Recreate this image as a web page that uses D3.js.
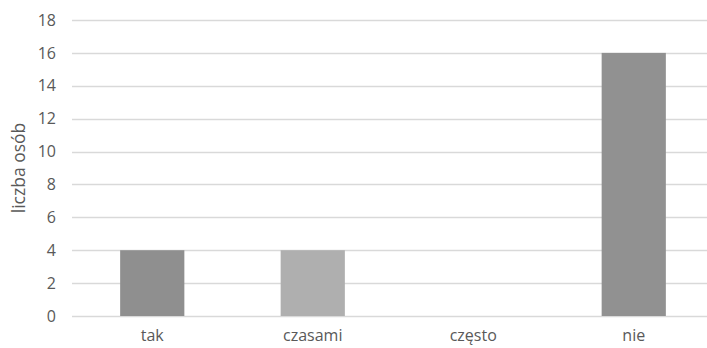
<!DOCTYPE html>
<html>
<head>
<meta charset="utf-8">
<script src="https://cdn.jsdelivr.net/npm/d3@7"></script>
<style>
  body { margin: 0; background: #fff; }
  svg { display: block; font-family: "Open Sans", "Liberation Sans", sans-serif; }
</style>
</head>
<body>
<svg id="chart"></svg>
<script>
const categories = ["tak", "czasami", "często", "nie"];
const values = [4, 4, 0, 16];
const barColors = ["#8f8f8f", "#afafaf", "#a0a0a0", "#919191"];
const yTicks = [0, 2, 4, 6, 8, 10, 12, 14, 16, 18];
const yLabel = "liczba osób";

const width = 707, height = 348;
const margin = { top: 20, right: -7, bottom: 32, left: 72 };

const svg = d3.select("#chart").attr("width", width).attr("height", height);

const x = d3.scaleBand()
  .domain(categories)
  .range([margin.left, width - margin.right])
  .paddingInner(0.6)
  .paddingOuter(0.3);

const y = d3.scaleLinear()
  .domain([0, 18])
  .range([height - margin.bottom, margin.top]);

// gridlines
svg.append("g")
  .selectAll("line")
  .data(yTicks)
  .join("line")
  .attr("x1", margin.left)
  .attr("x2", width)
  .attr("y1", d => Math.round(y(d)) + 0.5)
  .attr("y2", d => Math.round(y(d)) + 0.5)
  .attr("stroke", "#d9d9d9")
  .attr("stroke-width", 1.5);

// bars
svg.append("g")
  .selectAll("rect")
  .data(values)
  .join("rect")
  .attr("x", (d, i) => x(categories[i]))
  .attr("width", x.bandwidth())
  .attr("y", d => y(d))
  .attr("height", d => y(0) - y(d))
  .attr("fill", (d, i) => barColors[i]);

// y axis labels
const yAxis = d3.axisLeft(y).tickValues(yTicks).tickSize(0).tickPadding(16);
svg.append("g")
  .attr("transform", `translate(${margin.left},0)`)
  .call(yAxis)
  .call(g => g.select(".domain").remove())
  .call(g => g.selectAll("text")
    .attr("fill", "#595959")
    .attr("font-size", 16)
    .attr("font-family", "'Open Sans', sans-serif"));

// x axis labels
const xAxis = d3.axisBottom(x).tickSize(0).tickPadding(14);
svg.append("g")
  .attr("transform", `translate(0,${y(0)})`)
  .call(xAxis)
  .call(g => g.select(".domain").remove())
  .call(g => g.selectAll("text")
    .attr("fill", "#595959")
    .attr("font-size", 16)
    .attr("font-family", "'Open Sans', sans-serif"));

// y label
svg.append("text")
  .attr("transform", `translate(25,${(y(0) + y(18)) / 2}) rotate(-90)`)
  .attr("text-anchor", "middle")
  .attr("fill", "#595959")
  .attr("font-size", 17.5)
  .text(yLabel);
</script>
</body>
</html>
